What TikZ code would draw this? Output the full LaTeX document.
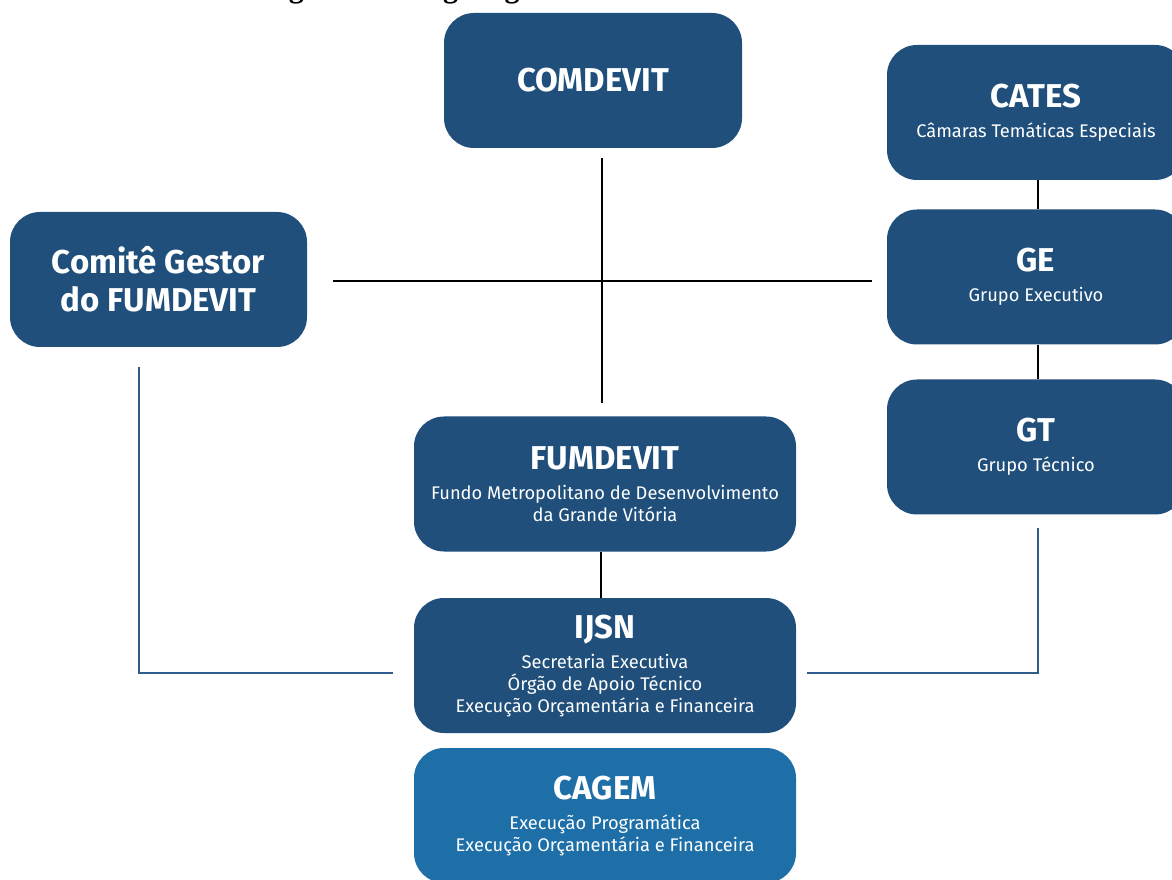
\documentclass[tikz,border=0pt]{standalone}
\usepackage{fontspec}
\setmainfont{Fira Sans}
\newfontfamily\captionfont{Liberation Serif}
\usetikzlibrary{calc}

\definecolor{boxblue}{HTML}{1F4F7A}
\definecolor{lightbox}{HTML}{1E6FA7}
\definecolor{lineblue}{HTML}{2F5E8E}

\newcommand{\ttl}[1]{{\fontsize{33}{40}\selectfont\bfseries #1}}

\begin{document}
\begin{tikzpicture}[x=1pt,y=1pt,
  orgbox/.style={rounded corners=30pt,fill=boxblue,text=white,align=center,inner sep=0pt,
    minimum width=298pt,minimum height=135pt,font=\fontsize{18.3}{22}\selectfont},
  wide/.style={minimum width=382pt},
  blackline/.style={line width=2.6pt,black},
  blueline/.style={line width=2.6pt,lineblue}]

\useasboundingbox (0,0) rectangle (1172,879);

% Caption, cut by the page edge
\node[anchor=base west,inner sep=0pt,font=\captionfont\bfseries\fontsize{30}{34}\selectfont] (caption) at (262,881) {Figura 3 -- Organograma do Sistema Gestor da RMGV};

% Boxes
\node[orgbox] (comdevit) at (593,798.5) {\ttl{COMDEVIT}};
\node[orgbox] (cates) at (1036,766.5) {\ttl{CATES}\\[8pt]Câmaras Temáticas Especiais};
\node[orgbox] (ge) at (1036,602) {\ttl{GE}\\[8pt]Grupo Executivo};
\node[orgbox] (gt) at (1036,432) {\ttl{GT}\\[8pt]Grupo Técnico};
\node[orgbox,minimum width=297pt,font=\fontsize{33}{38}\selectfont\bfseries] (comite) at (158.5,599.5) {Comitê Gestor\\do FUMDEVIT};
\node[orgbox,wide] (fumdevit) at (605,395) {\ttl{FUMDEVIT}\\[8pt]Fundo Metropolitano de Desenvolvimento\\da Grande Vitória};
\node[orgbox,wide] (ijsn) at (605,213.5) {\ttl{IJSN}\\[8pt]Secretaria Executiva\\Órgão de Apoio Técnico\\Execução Orçamentária e Financeira};
\node[orgbox,wide,fill=lightbox] (cagem) at (605,63.5) {\ttl{CAGEM}\\[8pt]Execução Programática\\Execução Orçamentária e Financeira};

% Black lines
\draw[blackline] ($(comdevit.south)+(9,-10)$) -- ($(fumdevit.north)+(-3,13)$);
\draw[blackline] ($(comite.east)+(26,-1.5)$) -- ($(ge.west)+(-15,-4)$);
\draw[blackline] ([xshift=2pt]cates.south) -- ([xshift=2pt]ge.north);
\draw[blackline] ([xshift=2pt]ge.south) -- ([xshift=2pt]gt.north);
\draw[blackline] ([xshift=-4pt]fumdevit.south) -- ([xshift=-4pt]ijsn.north);

% Blue lines
\draw[blueline] ($(comite.south)+(-19.5,-20)$) |- ($(ijsn.west)+(-21,-7.5)$);
\draw[blueline] ($(ijsn.east)+(11,-7.5)$) -| ($(gt.south)+(2,-13)$);

\end{tikzpicture}
\end{document}
